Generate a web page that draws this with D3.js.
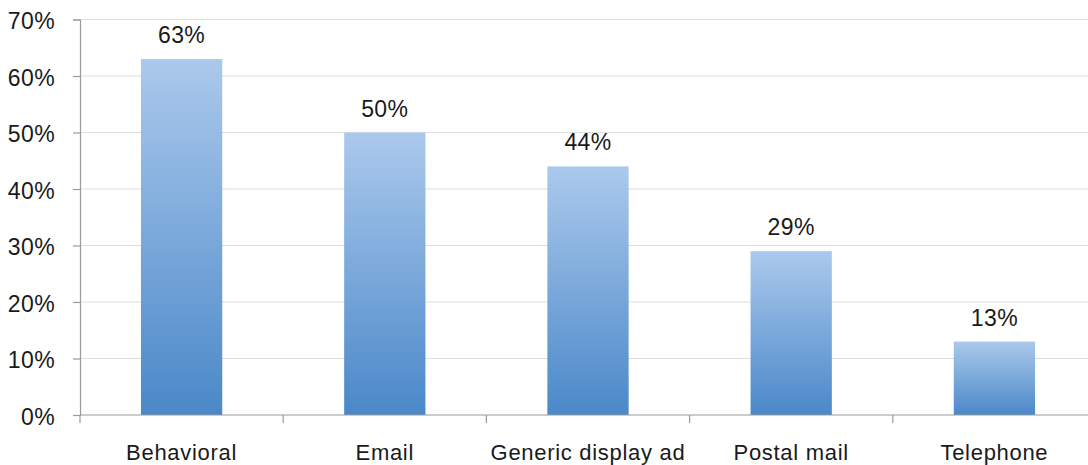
<!DOCTYPE html>
<html>
<head>
<meta charset="utf-8">
<script src="https://cdn.jsdelivr.net/npm/d3@7"></script>
<style>
  html, body { margin: 0; padding: 0; background: #fff; }
  svg { display: block; }
  text { font-family: "Liberation Sans", Arial, Helvetica, sans-serif; fill: #1a1a1a; letter-spacing: 0.4px; }
</style>
</head>
<body>
<svg id="chart" width="1088" height="465"></svg>
<script>
// Share of respondents by channel
const categories = ["Behavioral", "Email", "Generic display ad", "Postal mail", "Telephone"];
const values = [63, 50, 44, 29, 13];
const yTicks = [0, 10, 20, 30, 40, 50, 60, 70];

const svg = d3.select("#chart");
const plotLeft = 80, plotRight = 1096, plotTop = 19.5, plotBottom = 415;
const fontSize = 23;

const x = d3.scaleBand().domain(categories).range([plotLeft, plotRight]).paddingInner(0.6).paddingOuter(0.3);
const xBound = d3.scaleBand().domain(categories).range([plotLeft, plotRight]);
const y = d3.scaleLinear().domain([0, 70]).range([plotBottom, plotTop]);

// Vertical gradient for the bars
const defs = svg.append("defs");
const grad = defs.append("linearGradient").attr("id", "barGrad")
  .attr("x1", 0).attr("y1", 0).attr("x2", 0).attr("y2", 1);
grad.append("stop").attr("offset", "0%").attr("stop-color", "#abc9ec");
grad.append("stop").attr("offset", "100%").attr("stop-color", "#4a88c9");

// Horizontal gridlines
svg.append("g").selectAll("line").data(yTicks.filter(d => d > 0)).join("line")
  .attr("x1", plotLeft).attr("x2", 1088)
  .attr("y1", d => y(d)).attr("y2", d => y(d))
  .attr("stroke", "#dedede").attr("stroke-width", 1.2);

// Y axis
const yAxis = svg.append("g").attr("transform", `translate(${plotLeft},0)`)
  .call(d3.axisLeft(y).tickValues(yTicks).tickFormat(d => d + "%").tickSize(7).tickPadding(18));
yAxis.select(".domain").attr("stroke", "#9a9a9a").attr("stroke-width", 1.2);
yAxis.selectAll(".tick line").attr("stroke", "#9a9a9a").attr("stroke-width", 1.2);
yAxis.selectAll(".tick text").attr("font-size", fontSize).attr("fill", "#1a1a1a")
  .attr("dy", "0.4em")
  .style("font-family", "'Liberation Sans', Arial, sans-serif");

// Bars
svg.append("g").selectAll("rect").data(categories).join("rect")
  .attr("x", d => x(d))
  .attr("width", x.bandwidth())
  .attr("y", (d, i) => y(values[i]))
  .attr("height", (d, i) => y(0) - y(values[i]))
  .attr("fill", "url(#barGrad)");

// X axis baseline with category boundary ticks
svg.append("line").attr("x1", plotLeft).attr("x2", 1088).attr("y1", plotBottom).attr("y2", plotBottom)
  .attr("stroke", "#9a9a9a").attr("stroke-width", 1.2);
const bounds = categories.map(c => xBound(c)).concat([plotRight]);
svg.append("g").selectAll("line").data(bounds).join("line")
  .attr("x1", d => d).attr("x2", d => d)
  .attr("y1", plotBottom).attr("y2", plotBottom + 8)
  .attr("stroke", "#9a9a9a").attr("stroke-width", 1.2);

// Category labels
svg.append("g").selectAll("text").data(categories).join("text")
  .attr("x", d => x(d) + x.bandwidth() / 2)
  .attr("y", 459.5)
  .attr("text-anchor", "middle")
  .attr("font-size", 22)
  .style("letter-spacing", "0.7px")
  .text(d => d);

// Value labels
svg.append("g").selectAll("text").data(categories).join("text")
  .attr("x", d => x(d) + x.bandwidth() / 2)
  .attr("y", (d, i) => y(values[i]) - 16)
  .attr("text-anchor", "middle")
  .attr("font-size", fontSize)
  .text((d, i) => values[i] + "%");
</script>
</body>
</html>
